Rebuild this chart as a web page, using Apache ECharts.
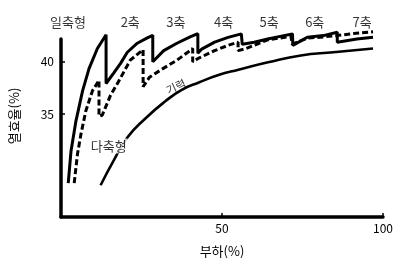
<!DOCTYPE html>
<html><head><meta charset="utf-8">
<script src="https://cdn.jsdelivr.net/npm/echarts@6/dist/echarts.min.js"></script>
<style>html,body{margin:0;padding:0;background:#fff}#c{width:400px;height:264px}</style>
</head><body><div id="c"></div>
<script>
// Upper solid sawtooth (best efficiency, by number of shafts)
const upperSolid = [[2.25,28.5],[3.1,31.5],[4.6,34.3],[6.7,37.2],[8.7,39.3],[11.3,41.2],[14.0,42.5],[14.0,37.9],
  [16.4,38.9],[18.5,39.8],[20.6,40.85],[23.7,41.7],[26.8,42.2],[28.5,42.45],[28.5,39.95],
  [31.9,41.0],[36.0,41.7],[40.1,42.3],[42.5,42.6],[42.5,40.75],
  [43.7,41.15],[47.7,41.8],[51.9,42.25],[56.0,42.58],[56.3,41.6],
  [60.0,41.8],[64.2,42.1],[69.2,42.42],[71.9,42.58],[72.0,41.5],
  [76.5,42.26],[81.5,42.42],[85.8,42.74],[85.8,41.8],
  [91.9,42.1],[96.9,42.26]];
// Dashed sawtooth
const dashedCurve = [[4.1,28.5],[5.1,31.2],[6.15,33.05],[7.7,35.3],[9.75,37.2],[11.8,38.2],[11.8,34.8],
  [12.8,34.9],[15.4,36.8],[17.9,38.1],[21.5,40.1],[25.5,41.1],[25.5,37.6],
  [27.5,38.5],[31.9,39.35],[36.0,40.1],[39.6,40.9],[40.9,41.2],[40.9,39.95],
  [42.8,40.3],[47.7,41.0],[51.9,41.5],[55.0,41.8],[55.0,41.0],
  [57.5,41.2],[64.0,42.0],[71.4,42.36],[71.8,41.6],
  [76.3,42.17],[81.5,42.3],[86.2,42.45],[91.7,42.64],[96.9,42.78]];
// Lower smooth curve (기력)
const lowerCurve = [[12.3,28.3],[16.3,30.6],[20.6,32.8],[26.2,34.6],[32.3,36.2],[37.5,37.3],[42.8,38.0],
  [48.9,38.7],[55.1,39.2],[64.3,39.9],[74.5,40.55],[84.6,40.85],[96.9,41.2]];
// Annotations
const shaftLabels = ['일축형','2축','3축','4축','5축','6축','7축'];
const shaftLabelX = [2.15,21.5,35.7,50.5,64.6,78.8,93.5];
const shaftLabelY = 43.7;
const curveLabels = ['다축형','기력'];
const curveLabelPos = [[14.8,32.0],[35.7,37.6]];
const yTicks = [35,40];
const xTicks = [50,100];

const font = '"Noto Sans CJK KR", sans-serif';
const chart = echarts.init(document.getElementById('c'), null, {renderer:'canvas'});
const annData = shaftLabels.map((n,i)=>({name:n, value:[shaftLabelX[i], shaftLabelY]}));
chart.setOption({
  animation:false,
  backgroundColor:'#fff',
  grid:{left:58, top:39, right:17, bottom:47},
  xAxis:{type:'value', min:0, max:100,
    name:'부하(%)', nameLocation:'middle', nameGap:28,
    nameTextStyle:{color:'#000', fontSize:13, fontFamily:font},
    axisLine:{lineStyle:{color:'#000', width:3.5}},
    axisTick:{inside:true, length:4, customValues:xTicks, lineStyle:{color:'#000', width:1.5}},
    axisLabel:{customValues:xTicks, color:'#000', fontSize:12, margin:5, fontFamily:font},
    splitLine:{show:false}},
  yAxis:{type:'value', min:25.3, max:42.1,
    name:'열효율(%)', nameLocation:'middle', nameGap:40, nameRotate:90,
    nameTextStyle:{color:'#000', fontSize:13, fontFamily:font, padding:[0,0,0,24]},
    axisLine:{show:true, lineStyle:{color:'#000', width:3.5}},
    axisTick:{show:true, inside:true, length:4, customValues:yTicks, lineStyle:{color:'#000', width:1.5}},
    axisLabel:{customValues:yTicks, color:'#000', fontSize:12, margin:7, fontFamily:font},
    splitLine:{show:false}},
  series:[
    {type:'line', data:lowerCurve, smooth:true, showSymbol:false, clip:false,
      lineStyle:{color:'#000', width:2.6}},
    {type:'line', data:upperSolid, showSymbol:false, clip:false,
      lineStyle:{color:'#000', width:3}},
    {type:'line', data:dashedCurve, showSymbol:false, clip:false,
      lineStyle:{color:'#000', width:3, type:[6,3]}},
    {type:'scatter', data:annData, symbolSize:0, clip:false, silent:true,
      label:{show:true, position:'inside', formatter:p=>p.name, color:'#000', fontSize:13, fontFamily:font}},
    {type:'scatter', data:[
        {name:curveLabels[0], value:curveLabelPos[0],
          label:{backgroundColor:'#fff', padding:[1,1]}},
        {name:curveLabels[1], value:curveLabelPos[1], label:{rotate:25, fontSize:11}}],
      symbolSize:0, clip:false, silent:true, z:5,
      label:{show:true, position:'inside', formatter:p=>p.name, color:'#000', fontSize:13, fontFamily:font}}
  ]
});
</script></body></html>
